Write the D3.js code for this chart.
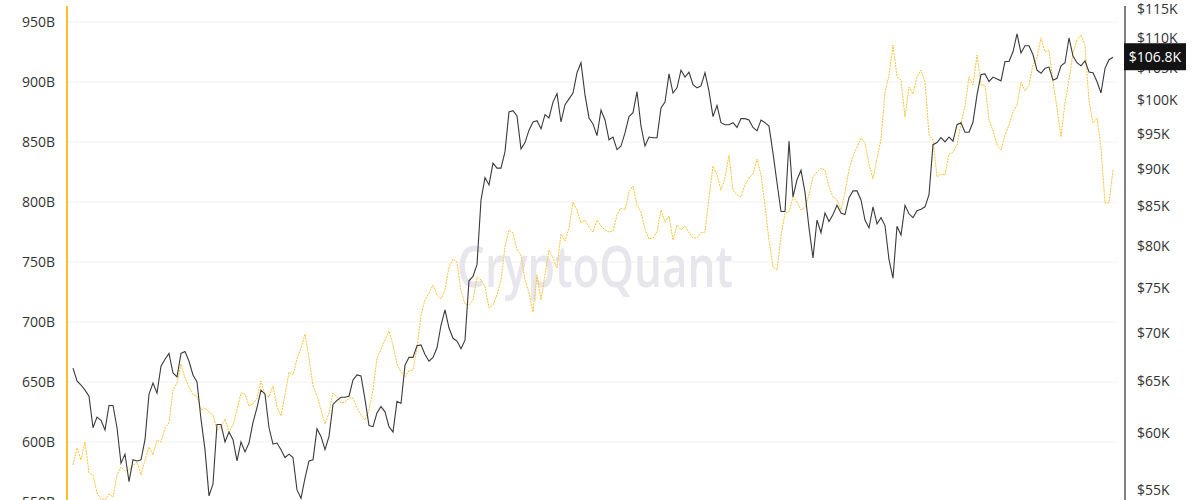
<!DOCTYPE html>
<html>
<head>
<meta charset="utf-8">
<script src="https://cdn.jsdelivr.net/npm/d3@7"></script>
<style>
  html, body { margin: 0; padding: 0; background: #fff; overflow: hidden; }
  svg { display: block; }
  text { font-family: "Open Sans", "Noto Sans", sans-serif; }
</style>
</head>
<body>
<script>
// BTC price, $K (black line, right log axis)
const priceK = [
  66.3, 65.0, 64.6, 64.1, 63.5, 60.5, 61.5, 61.2, 60.3, 62.6,
  62.6, 60.5, 57.3, 58.1, 55.7, 57.6, 57.5, 57.6, 59.4, 63.7,
  64.8, 63.8, 66.5, 67.2, 67.8, 65.8, 65.4, 67.8, 68.0, 67.0,
  65.6, 64.9, 61.3, 58.5, 54.5, 55.5, 60.8, 60.8, 59.2, 60.1,
  59.4, 57.5, 59.2, 58.3, 59.1, 61.0, 62.4, 64.1, 63.7, 60.5,
  59.0, 59.1, 58.5, 57.8, 58.1, 57.8, 55.0, 54.3, 56.0, 57.5,
  57.6, 60.4, 59.7, 58.5, 59.7, 62.7, 63.1, 63.4, 63.4, 63.5,
  65.1, 65.6, 65.5, 63.2, 60.7, 60.6, 61.9, 62.5, 62.0, 60.6,
  60.1, 63.0, 62.8, 66.6, 67.4, 67.4, 68.6, 68.7, 67.7, 67.0,
  67.4, 68.4, 70.8, 72.5, 70.5, 69.4, 69.1, 68.3, 69.2, 75.8,
  76.3, 77.7, 85.8, 88.8, 87.8, 90.8, 90.1, 90.1, 92.4, 98.2,
  98.4, 97.6, 92.8, 93.7, 95.5, 96.7, 96.9, 95.7, 97.8, 97.3,
  99.7, 101.0, 96.7, 99.3, 100.2, 101.1, 104.3, 105.9, 100.8, 97.3,
  96.4, 94.7, 98.5, 97.0, 94.1, 94.5, 92.7, 93.2, 95.1, 97.5,
  98.1, 101.3, 96.1, 93.2, 94.5, 94.4, 94.4, 98.8, 99.7, 104.1,
  101.1, 101.9, 104.7, 103.6, 104.4, 102.4, 101.9, 102.2, 104.3, 101.4,
  97.5, 99.2, 96.6, 96.3, 96.3, 96.6, 95.9, 97.2, 97.2, 97.0,
  95.9, 95.4, 97.0, 96.6, 96.1, 92.2, 88.1, 84.3, 84.3, 93.9,
  86.2, 88.5, 89.8, 86.8, 82.2, 78.5, 83.2, 81.6, 84.1, 83.0,
  83.9, 85.1, 84.1, 83.9, 86.1, 87.0, 87.0, 85.8, 83.2, 82.2,
  84.9, 82.7, 83.5, 82.5, 78.3, 76.1, 82.4, 81.3, 85.1, 84.0,
  83.5, 84.4, 84.6, 84.9, 86.5, 93.4, 93.7, 94.4, 93.8, 94.5,
  93.9, 96.3, 96.6, 95.2, 95.2, 96.7, 100.8, 104.0, 104.1, 102.9,
  103.6, 103.3, 103.0, 106.1, 106.1, 107.7, 110.7, 107.5, 108.7, 108.7,
  107.2, 104.7, 104.2, 105.0, 105.2, 103.1, 103.4, 105.4, 105.9, 110.0,
  107.0, 105.9, 105.4, 106.2, 104.4, 104.3, 102.9, 101.1, 105.0, 106.4,
  106.8
];

// metric in billions (orange dashed line, left axis)
const metricB = [
  580.8, 595, 585, 600, 574.2, 572.5, 557.5, 552.5, 551.7, 556.7,
  554.2, 572.5, 579.2, 575.8, 576.7, 580, 583.3, 572.5, 585, 595.8,
  589.2, 601.7, 600, 611.7, 615.8, 643.3, 649.2, 665, 653.3, 645.8,
  639.2, 638.3, 626.7, 628.3, 625, 622.5, 610, 612.5, 619.2, 608.3,
  614.2, 626.7, 640.8, 640, 630, 631.7, 636.7, 650.8, 639.2, 637.5,
  646.7, 629.2, 621.7, 639.2, 658.3, 655.8, 669.2, 678.3, 690, 670,
  646.7, 638.3, 626.7, 615, 624.2, 640.8, 637.5, 632.5, 633.3, 636.7,
  636.7, 628.3, 622.5, 618.3, 626.7, 643.3, 670, 677.5, 685, 692.5,
  680.8, 665, 658.3, 654.2, 659.2, 660, 678.3, 705.8, 718.3, 724.2,
  730.8, 722.5, 719.2, 726.7, 745.8, 752.5, 750, 725.8, 715, 714.2,
  718.3, 737.5, 735, 729.2, 711.7, 714.2, 722.5, 735, 762.5, 776.7,
  774.2, 760, 755.8, 735, 724.2, 708.3, 739.2, 718.3, 739.2, 760,
  753.3, 745, 773.3, 767.5, 778.3, 800, 793.3, 782.5, 785, 779.2,
  775, 785, 780, 776.7, 775, 775.8, 789.2, 795, 793.3, 808.3,
  813.3, 797.5, 791.7, 777.5, 769.2, 770, 775, 793.3, 783.3, 788.3,
  768.3, 780.8, 776.7, 780, 774.2, 770, 770, 774.2, 775, 803.3,
  830, 822.5, 810, 820, 839.2, 810, 805.8, 804.2, 814.2, 820,
  823.3, 835.8, 822.5, 796.7, 768.3, 745.8, 743.3, 771.7, 790.8, 791.7,
  804.2, 800, 793.3, 795.8, 805.8, 820.8, 825, 828.3, 826.7, 812.5,
  804.2, 801.7, 793.3, 808.3, 826.7, 838.3, 845.8, 853.3, 849.2, 831.7,
  819.2, 836.7, 851.7, 891.7, 905.8, 930.8, 904.2, 901.7, 870.8, 895.8,
  890, 904.2, 910, 900, 855.8, 851.7, 820.8, 823.3, 822.5, 840,
  841.7, 847.5, 865.8, 880, 904.2, 897.5, 922.5, 897.5, 897.5, 868.3,
  859.2, 847.5, 843.3, 855.8, 864.2, 875, 880.8, 900, 892.5, 897.5,
  914.2, 920, 936.7, 925, 926.7, 900, 878.3, 854.2, 882.5, 901.7,
  924.2, 935, 939.2, 930.8, 884.2, 865.8, 870, 845, 799.2, 799.2,
  826.7
];

const leftTicks = [550, 600, 650, 700, 750, 800, 850, 900, 950];
const rightTicks = [55, 60, 65, 70, 75, 80, 85, 90, 95, 100, 105, 110, 115];
const lastPrice = 106.8;

const width = 1200, height = 500;
const plotLeft = 67, plotRight = 1118, axisRight = 1125;

const svg = d3.select("body").append("svg")
    .attr("width", width)
    .attr("height", height);

const x = d3.scaleLinear().domain([0, priceK.length - 1]).range([73, 1113]);
const yLeft = d3.scaleLinear().domain([550, 950]).range([502, 22]);
const yRight = d3.scaleLog().domain([55, 115]).range([489.9, 9]);

// grid
svg.append("g").selectAll("line")
    .data(leftTicks)
    .enter().append("line")
    .attr("x1", plotLeft).attr("x2", plotRight)
    .attr("y1", d => yLeft(d)).attr("y2", d => yLeft(d))
    .attr("stroke", "#f2f2f2")
    .attr("stroke-width", 1);

// watermark
svg.append("text")
    .attr("x", 595)
    .attr("y", 287)
    .attr("text-anchor", "middle")
    .attr("font-size", 57)
    .attr("font-weight", 600)
    .attr("fill", "#e6e6ec")
    .attr("textLength", 276)
    .attr("lengthAdjust", "spacingAndGlyphs")
    .text("CryptoQuant");

// left axis
const leftAxis = svg.append("g")
    .attr("transform", "translate(" + plotLeft + ",0)")
    .call(d3.axisLeft(yLeft).tickValues(leftTicks).tickSize(0).tickPadding(12)
        .tickFormat(d => d + "B"));
leftAxis.select(".domain").remove();
leftAxis.selectAll("text")
    .attr("font-size", 14)
    .attr("fill", "#333")
    .style("font-family", "'Open Sans', sans-serif");
svg.append("line")
    .attr("x1", plotLeft).attr("x2", plotLeft)
    .attr("y1", 6).attr("y2", height)
    .attr("stroke", "#fdbf22")
    .attr("stroke-width", 2);

// right axis
const rightAxis = svg.append("g")
    .attr("transform", "translate(" + axisRight + ",0)")
    .call(d3.axisRight(yRight).tickValues(rightTicks).tickSize(0).tickPadding(12)
        .tickFormat(d => "$" + d + "K"));
rightAxis.select(".domain").remove();
rightAxis.selectAll("text")
    .attr("font-size", 14)
    .attr("fill", "#333")
    .style("font-family", "'Open Sans', sans-serif");
svg.append("line")
    .attr("x1", axisRight).attr("x2", axisRight)
    .attr("y1", 6).attr("y2", height)
    .attr("stroke", "#555")
    .attr("stroke-width", 1.5);

// orange dashed series
const metricLine = d3.line()
    .x((d, i) => x(i))
    .y(d => yLeft(d));
svg.append("path")
    .datum(metricB)
    .attr("d", metricLine)
    .attr("fill", "none")
    .attr("stroke", "#fcc235")
    .attr("stroke-width", 1)
    .attr("stroke-dasharray", "2,1");

// price series
const priceLine = d3.line()
    .x((d, i) => x(i))
    .y(d => yRight(d));
svg.append("path")
    .datum(priceK)
    .attr("d", priceLine)
    .attr("fill", "none")
    .attr("stroke", "#3a3a3a")
    .attr("stroke-width", 1.1);

// last price badge
const badge = svg.append("g")
    .attr("transform", "translate(" + (axisRight - 1) + "," + yRight(lastPrice) + ")");
badge.append("rect")
    .attr("x", 0).attr("y", -14)
    .attr("width", 62).attr("height", 27)
    .attr("fill", "#131313");
badge.append("text")
    .attr("x", 31).attr("y", 0)
    .attr("dy", "0.35em")
    .attr("text-anchor", "middle")
    .attr("font-size", 14)
    .attr("fill", "#fff")
    .text("$" + lastPrice + "K");
</script>
</body>
</html>
